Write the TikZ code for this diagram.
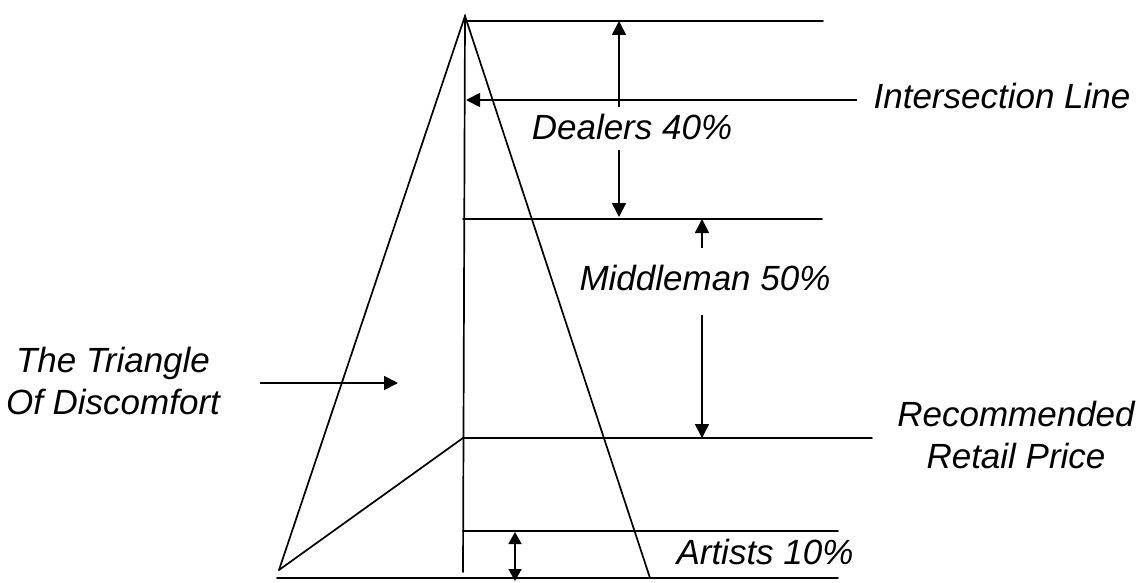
\documentclass[tikz,border=0pt]{standalone}
\usepackage{fontspec}
\setmainfont{Liberation Sans}
\usetikzlibrary{arrows.meta}
\begin{document}
\begin{tikzpicture}[x=1pt,y=-1pt,
  ln/.style={line width=1.7pt, line cap=round},
  arr/.style={line width=1.7pt, -{Triangle[length=14pt,width=14pt]}},
  darr/.style={line width=1.7pt, {Triangle[length=12pt,width=13pt]}-{Triangle[length=12pt,width=13pt]}},
  lbl/.style={font=\fontsize{35}{40}\selectfont\itshape, inner sep=0pt, align=center}]
\useasboundingbox (0,0) rectangle (1138,583);
% triangle vertices
\coordinate (apex) at (465,16);
\coordinate (bl) at (279,570);
\coordinate (br) at (650,578);
\coordinate (vbot) at (463,572);
\coordinate (rrpv) at (463,438);
% horizontal line ends
\coordinate (topL) at (467,21);   \coordinate (topR) at (823,21);
\coordinate (intV) at (466,100);  \coordinate (intR) at (857,100);
\coordinate (midL) at (463,219);  \coordinate (midR) at (822,219);
\coordinate (rrpR) at (872,438);
\coordinate (artL) at (463,531);  \coordinate (artR) at (838,531);
\coordinate (baseL) at (277,578); \coordinate (baseR) at (838,578);
% shapes
\draw[ln] (bl) -- (apex) -- (br);
\draw[ln] (apex) -- (vbot);
\draw[ln] (bl) -- (rrpv);
\draw[ln] (topL) -- (topR);
\draw[ln] (midL) -- (midR);
\draw[ln] (rrpv) -- (rrpR);
\draw[ln] (artL) -- (artR);
\draw[ln] (baseL) -- (baseR);
% labels
\node[lbl] (inter) at (1002,96) {Intersection Line};
\node[lbl] (dealers) at (632,127) {Dealers 40\%};
\node[lbl] (middle) at (705,278) {Middleman 50\%};
\node[lbl] (rrp) at (1016,435) {Recommended\\[2pt]Retail Price};
\node[lbl] (artists) at (765,552) {Artists 10\%};
\node[lbl] (tri) at (113,381) {The Triangle\\[2pt]Of Discomfort};
% arrows
\draw[arr] (intR) -- (intV);
\coordinate (d1s) at (619,107); \coordinate (d1e) at (619,21);
\draw[arr] (d1s) -- (d1e);
\coordinate (d2s) at (619,150); \coordinate (d2e) at (619,217);
\draw[arr] (d2s) -- (d2e);
\coordinate (m1s) at (702,248); \coordinate (m1e) at (702,219);
\draw[arr] (m1s) -- (m1e);
\coordinate (m2s) at (702,315); \coordinate (m2e) at (702,438);
\draw[arr] (m2s) -- (m2e);
\coordinate (a1) at (515,532); \coordinate (a2) at (515,581);
\draw[darr] (a1) -- (a2);
\coordinate (t1) at (260,383); \coordinate (t2) at (398,383);
\draw[arr] (t1) -- (t2);
\end{tikzpicture}
\end{document}
